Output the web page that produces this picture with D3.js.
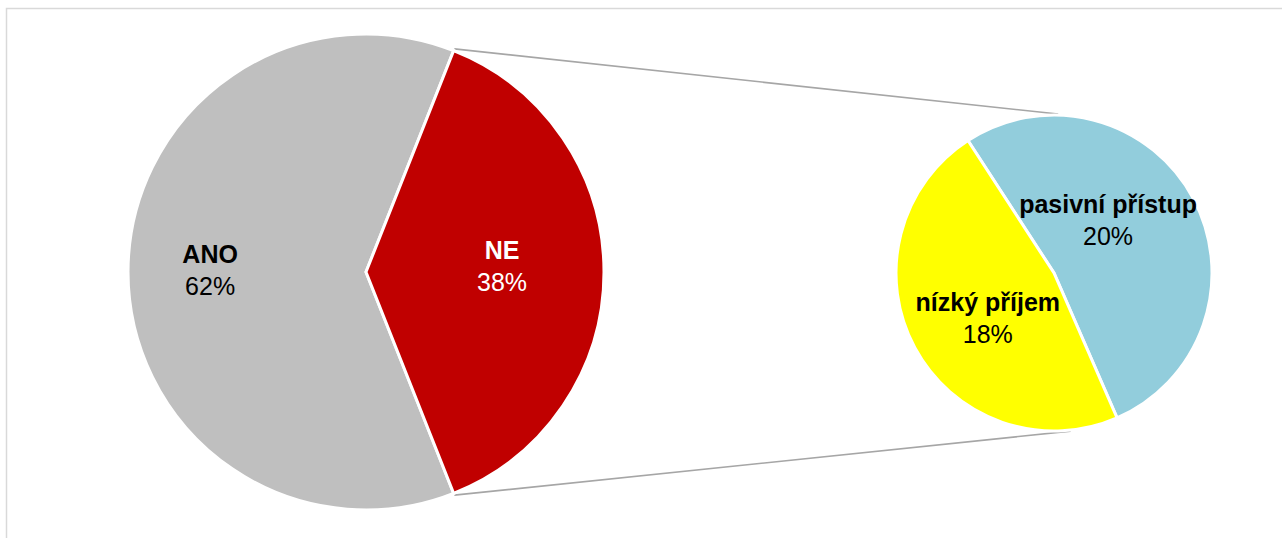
<!DOCTYPE html>
<html>
<head>
<meta charset="utf-8">
<script src="https://cdn.jsdelivr.net/npm/d3@7/dist/d3.min.js"></script>
<style>
  html, body { margin: 0; padding: 0; background: #ffffff; }
  svg { display: block; }
  text { font-family: "Liberation Sans", Arial, sans-serif; }
</style>
</head>
<body>
<svg id="chart" width="1282" height="538"></svg>
<script>
// ---- data ----
const mainCategories = ["ANO", "NE"];
const mainValues = [62, 38];
const subCategories = ["pasivní přístup", "nízký příjem"];
const subValues = [20, 18];

// ---- styles ----
const mainColors = ["#BFBFBF", "#C00000"];
const subColors = ["#92CDDC", "#FFFF00"];
const mainLabelColors = ["#000000", "#ffffff"];
const subLabelColors = ["#000000", "#000000"];

const W = 1282, H = 538;
const svg = d3.select("#chart");
const deg = Math.PI / 180;

// chart frame (extends past right/bottom edges)
svg.append("rect")
  .attr("x", 6.5).attr("y", 8.5)
  .attr("width", W + 20).attr("height", H + 20)
  .attr("fill", "#ffffff")
  .attr("stroke", "#D9D9D9").attr("stroke-width", 1.5);

const main = { cx: 366, cy: 272, r: 238 };
const sub = { cx: 1054, cy: 273, r: 158 };

// main pie: the split slice (NE, last) centred on the right
const mainTotal = d3.sum(mainValues);
const splitShare = mainValues[mainValues.length - 1] / mainTotal;
const mainStart = Math.PI / 2 + splitShare * Math.PI;
const mainPie = d3.pie().sort(null).value(d => d)
  .startAngle(mainStart).endAngle(mainStart + 2 * Math.PI);
const mainArcs = mainPie(mainValues);

// sub pie
const subStart = -33 * deg;
const subPie = d3.pie().sort(null).value(d => d)
  .startAngle(subStart).endAngle(subStart + 2 * Math.PI);
const subArcs = subPie(subValues);

const arcMain = d3.arc().innerRadius(0).outerRadius(main.r);
const arcSub = d3.arc().innerRadius(0).outerRadius(sub.r);

function polar(c, angle, radius) {
  return [c.cx + radius * Math.sin(angle), c.cy - radius * Math.cos(angle)];
}

// connector lines
const split = mainArcs[mainArcs.length - 1];
const p1 = polar(main, split.startAngle, main.r + 2);
const p2 = polar(main, split.endAngle, main.r + 2);
const q1 = polar(sub, 1.5 * deg, sub.r + 1);
const q2 = polar(sub, 174 * deg, sub.r + 1);
svg.append("g").selectAll("line")
  .data([[p1, q1], [p2, q2]])
  .join("line")
  .attr("x1", d => d[0][0]).attr("y1", d => d[0][1])
  .attr("x2", d => d[1][0]).attr("y2", d => d[1][1])
  .attr("stroke", "#A6A6A6").attr("stroke-width", 1.6);

// main pie slices
svg.append("g").attr("transform", `translate(${main.cx},${main.cy})`)
  .selectAll("path").data(mainArcs).join("path")
  .attr("d", arcMain)
  .attr("fill", (d, i) => mainColors[i])
  .attr("stroke", "#ffffff").attr("stroke-width", 3)
  .attr("stroke-linejoin", "miter");

// sub pie slices
svg.append("g").attr("transform", `translate(${sub.cx},${sub.cy})`)
  .selectAll("path").data(subArcs).join("path")
  .attr("d", arcSub)
  .attr("fill", (d, i) => subColors[i])
  .attr("stroke", "#ffffff").attr("stroke-width", 3)
  .attr("stroke-linejoin", "miter");

// labels
const mainLabelPos = [{ da: 0, f: 0.655 }, { da: -1.7, f: 0.572 }];
const subLabelPos = [{ da: -15, f: 0.47 }, { da: -7, f: 0.513 }];

function drawLabels(c, arcs, cats, vals, colors, pos) {
  const g = svg.append("g");
  arcs.forEach((a, i) => {
    const mid = (a.startAngle + a.endAngle) / 2 + pos[i].da * deg;
    const [x, y] = polar(c, mid, c.r * pos[i].f);
    const t = g.append("text")
      .attr("x", x).attr("text-anchor", "middle")
      .attr("fill", colors[i]).attr("font-size", 25);
    t.append("tspan").attr("x", x).attr("y", y - 9)
      .attr("font-weight", "bold").text(cats[i]);
    t.append("tspan").attr("x", x).attr("y", y + 23)
      .text(d3.format(".0%")(vals[i] / 100));
  });
}
drawLabels(main, mainArcs, mainCategories, mainValues, mainLabelColors, mainLabelPos);
drawLabels(sub, subArcs, subCategories, subValues, subLabelColors, subLabelPos);
</script>
</body>
</html>
